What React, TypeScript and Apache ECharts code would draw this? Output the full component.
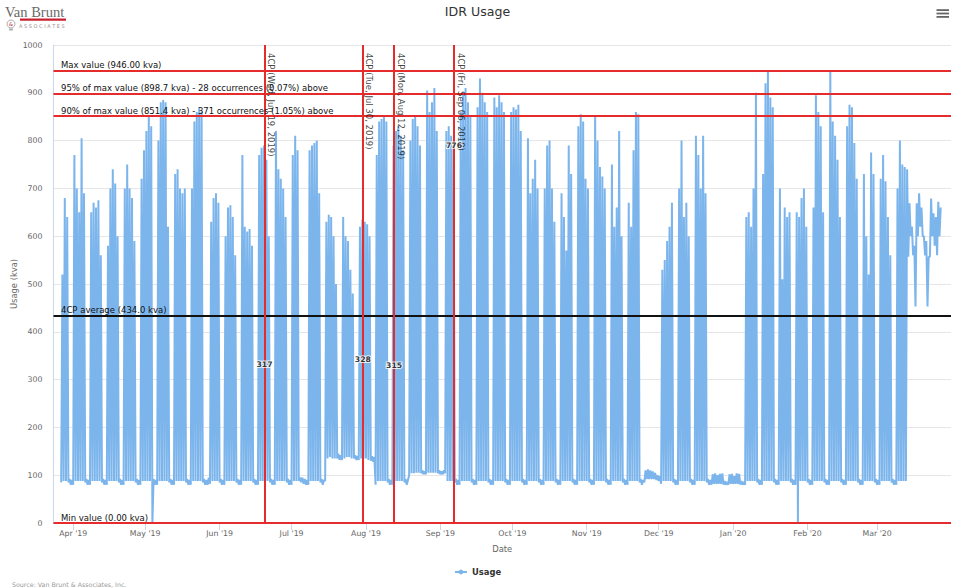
import React, { useEffect, useRef } from 'react';
import * as echarts from 'echarts';

const FONT = '"DejaVu Sans", "Lucida Grande", sans-serif';
const RED = '#e52b2b';

// one row per week, Monday..Sunday, first row = week of Mon Mar 25, 2019
// daily peak (kva)
const dailyPeaks: (number | null)[][] = [
    [null, null, 520, 680, 640, 92, 90],
    [770, 700, 650, 805, 690, 92, 90],
    [650, 670, 660, 675, 560, 92, 90],
    [580, 700, 740, 710, 600, 92, 90],
    [700, 750, 700, 680, 590, 92, 90],
    [720, 780, 820, 850, 830, 92, 90],
    [800, 880, 885, 880, 620, 92, 90],
    [730, 740, 700, 690, 700, 92, 90],
    [700, 840, 860, 870, 860, 92, 90],
    [95, 630, 680, 690, 670, 92, 90],
    [600, 660, 665, 640, 560, 92, 90],
    [770, 620, 610, 615, 580, 92, 90],
    [770, 785, 790, 760, 600, 92, 90],
    [820, 740, 720, 700, 640, 92, 90],
    [770, 810, 780, 95, 95, 92, 90],
    [780, 790, 795, 800, 690, 92, 90],
    [630, 645, 640, 600, 500, 145, 142],
    [640, 600, 590, 530, 480, 142, 140],
    [620, 635, 630, 625, 600, 140, 138],
    [770, 840, 845, 850, 840, 92, 90],
    [790, 820, 830, 810, 780, 92, 90],
    [800, 845, 850, 830, 790, 110, 108],
    [905, 860, 880, 910, 820, 110, 108],
    [110, 820, 830, 810, 790, 92, 90],
    [860, 900, 910, 880, 850, 92, 90],
    [870, 930, 900, 880, 860, 92, 90],
    [890, 870, 895, 880, 860, 92, 90],
    [860, 870, 865, 875, 820, 92, 90],
    [805, 690, 720, 760, 700, 92, 90],
    [700, 790, 800, 700, 630, 92, 90],
    [690, 640, 570, 790, 730, 92, 90],
    [830, 855, 840, 720, 700, 92, 90],
    [850, 800, 745, 725, 700, 92, 90],
    [750, 620, 660, 820, 600, 92, 90],
    [670, 620, 780, 860, 855, 92, 90],
    [110, 112, 110, 108, 105, 100, 98],
    [530, 550, 590, 620, 670, 92, 90],
    [700, 800, 640, 670, 600, 92, 90],
    [810, 770, 700, 810, 690, 92, 90],
    [102, 104, 100, 103, 104, 88, 86],
    [102, 103, 98, 104, 103, 88, 86],
    [640, 650, 620, 700, 900, 92, 90],
    [730, 920, 946, 890, 870, 92, 90],
    [700, 510, 660, 640, 650, 92, 90],
    [650, 640, 680, 700, 620, 92, 90],
    [660, 895, 860, 830, 650, 92, 90],
    [946, 840, 810, 760, 640, 92, 90],
    [830, 875, 870, 795, 720, 92, 90],
    [730, 600, 520, 775, 730, 92, 90],
    [720, 770, 715, 640, 560, 92, 90],
    [700, 800, 750, 745, 740, 669, 620],
    [580, 669, 690, 660, 600, 590, 557],
    [679, 648, 640, 672, 660, null, null],
];

// overnight low (kva) at the start of each day
const dailyLows: (number | null)[][] = [
    [null, null, 85, 88, 88, 85, 80],
    [80, 88, 88, 88, 88, 85, 80],
    [80, 88, 88, 88, 88, 85, 80],
    [80, 88, 88, 88, 88, 85, 80],
    [80, 88, 88, 88, 88, 85, 80],
    [80, 88, 88, 88, 88, 0, 80],
    [80, 88, 88, 88, 88, 85, 80],
    [80, 88, 88, 88, 88, 85, 80],
    [80, 88, 88, 88, 88, 85, 80],
    [80, 82, 88, 88, 88, 85, 80],
    [80, 88, 88, 88, 88, 85, 80],
    [80, 88, 88, 88, 88, 85, 80],
    [80, 88, 88, 88, 88, 85, 80],
    [80, 88, 88, 88, 88, 85, 80],
    [80, 88, 88, 88, 85, 82, 80],
    [80, 88, 88, 88, 88, 85, 80],
    [88, 135, 138, 135, 135, 135, 132],
    [132, 135, 138, 138, 135, 135, 132],
    [132, 135, 135, 135, 132, 130, 128],
    [80, 88, 88, 88, 88, 85, 80],
    [80, 88, 88, 88, 88, 85, 80],
    [100, 104, 104, 105, 105, 104, 102],
    [102, 105, 105, 105, 105, 104, 102],
    [102, 104, 88, 88, 88, 85, 80],
    [80, 88, 88, 88, 88, 85, 80],
    [80, 88, 88, 88, 88, 85, 80],
    [80, 88, 88, 88, 88, 85, 80],
    [80, 88, 88, 88, 88, 85, 80],
    [80, 88, 88, 88, 88, 85, 80],
    [80, 88, 88, 88, 88, 85, 80],
    [80, 88, 88, 88, 88, 85, 80],
    [80, 88, 88, 88, 88, 85, 80],
    [80, 88, 88, 88, 88, 85, 80],
    [80, 88, 88, 88, 88, 85, 80],
    [80, 88, 88, 88, 88, 85, 80],
    [85, 92, 92, 92, 92, 90, 88],
    [82, 88, 88, 88, 88, 85, 80],
    [80, 88, 88, 88, 88, 85, 80],
    [80, 88, 88, 88, 88, 85, 80],
    [80, 82, 82, 82, 82, 80, 80],
    [80, 82, 82, 82, 82, 80, 80],
    [80, 88, 88, 88, 88, 85, 80],
    [80, 88, 88, 88, 88, 85, 80],
    [80, 88, 88, 88, 88, 85, 80],
    [80, 0, 88, 88, 88, 85, 80],
    [80, 88, 88, 88, 88, 85, 80],
    [80, 88, 88, 88, 88, 85, 80],
    [80, 88, 88, 88, 88, 85, 80],
    [80, 88, 88, 88, 88, 85, 80],
    [80, 88, 88, 88, 88, 85, 80],
    [80, 88, 88, 88, 88, 557, 600],
    [560, 453, 600, 620, 600, 560, 453],
    [557, 600, 580, 560, 600, null, null],
];

// 4CP intervals
const cpDates = ['Wed, Jun 19, 2019', 'Tue, Jul 30, 2019', 'Mon, Aug 12, 2019', 'Fri, Sep 06, 2019'];
const cpTimes = [
    new Date(2019, 5, 19, 17).getTime(),
    new Date(2019, 6, 30, 17).getTime(),
    new Date(2019, 7, 12, 17).getTime(),
    new Date(2019, 8, 6, 17).getTime(),
];
const cpValues = [317, 328, 315, 776];

// horizontal reference lines
const refValues = [946, 898.7, 851.4, 434.0, 0];
const refLabels = [
    'Max value (946.00 kva)',
    '95% of max value (898.7 kva) - 28 occurrences (0.07%) above',
    '90% of max value (851.4 kva) - 371 occurrences (1.05%) above',
    '4CP average (434.0 kva)',
    'Min value (0.00 kva)',
];
const refColors = [RED, RED, RED, '#111111', RED];

const monthNames = ['Jan', 'Feb', 'Mar', 'Apr', 'May', 'Jun', 'Jul', 'Aug', 'Sep', 'Oct', 'Nov', 'Dec'];

const DAY = 86400000;

const App: React.FC = () => {
    const chartRef = useRef<HTMLDivElement>(null);

    useEffect(() => {
        const chartDom = chartRef.current!;
        const myChart = echarts.init(chartDom, undefined, { renderer: 'svg' });

        const usage: [number, number][] = [];
        dailyPeaks.forEach((row, w) => {
            row.forEach((peak, d) => {
                const low = dailyLows[w][d];
                if (peak == null || low == null) return;
                const day = 25 + w * 7 + d;
                usage.push([new Date(2019, 2, day).getTime(), low]);
                usage.push([new Date(2019, 2, day, 12).getTime(), peak]);
            });
        });

        const markData: any[] = refValues.map((v, i) => ({
            yAxis: v,
            lineStyle: { color: refColors[i], width: 2, type: 'solid' },
            label: {
                show: true,
                position: 'insideStartTop',
                formatter: refLabels[i],
                color: '#111',
                fontSize: 8.5,
                fontFamily: FONT,
                distance: [7.5, 1],
            },
        }));
        cpTimes.forEach((t) => {
            markData.push({
                xAxis: t,
                lineStyle: { color: RED, width: 2, type: 'solid' },
                label: { show: false },
            });
        });

        const option: any = {
            animation: false,
            backgroundColor: '#ffffff',
            title: {
                text: 'IDR Usage',
                left: 'center',
                top: 0,
                textStyle: { fontSize: 12.6, fontWeight: 'normal', color: '#333333', fontFamily: FONT },
            },
            grid: { left: 53.5, right: 4, top: 45, bottom: 65, outerBoundsMode: 'none', containLabel: false },
            legend: {
                data: ['Usage'],
                top: 563,
                left: 'center',
                itemWidth: 12,
                itemHeight: 6,
                textStyle: { color: '#333333', fontWeight: 'bold', fontSize: 8.4, fontFamily: FONT },
            },
            xAxis: {
                type: 'time',
                min: new Date(2019, 2, 23, 19).getTime(),
                max: new Date(2020, 2, 31, 19).getTime(),
                splitNumber: 12,
                minInterval: 28 * DAY,
                maxInterval: 31 * DAY,
                name: 'Date',
                nameLocation: 'middle',
                nameGap: 22,
                nameMoveOverlap: false,
                nameTextStyle: { color: '#666666', fontSize: 8.4, fontFamily: FONT },
                axisLine: { show: true, lineStyle: { color: '#ccd6eb' } },
                axisTick: { show: true, length: 7, lineStyle: { color: '#ccd6eb' } },
                axisLabel: {
                    color: '#666666',
                    fontSize: 7.8,
                    fontFamily: FONT,
                    margin: 6,
                    formatter: (value: number) => {
                        const d = new Date(value);
                        return monthNames[d.getMonth()] + " '" + String(d.getFullYear()).slice(2);
                    },
                },
                splitLine: { show: false },
            },
            yAxis: {
                type: 'value',
                min: 0,
                max: 1000,
                interval: 100,
                name: 'Usage (kva)',
                nameLocation: 'middle',
                nameGap: 36,
                nameMoveOverlap: false,
                nameTextStyle: { color: '#666666', fontSize: 8.4, fontFamily: FONT },
                axisLine: { show: true, lineStyle: { color: '#ccd6eb' } },
                axisTick: { show: false },
                axisLabel: {
                    color: '#666666',
                    fontSize: 7.8,
                    fontFamily: FONT,
                    margin: 11,
                    formatter: (v: number) => String(v),
                },
                splitLine: { show: true, lineStyle: { color: '#e6e6e6', width: 1 } },
            },
            series: [
                {
                    name: 'Usage',
                    type: 'line',
                    data: usage,
                    color: '#7cb5ec',
                    symbol: 'circle',
                    symbolSize: 5,
                    showSymbol: false,
                    lineStyle: { width: 2, color: '#7cb5ec' },
                    markLine: {
                        silent: true,
                        symbol: ['none', 'none'],
                        data: markData,
                    },
                },
                {
                    name: '4CP label',
                    type: 'scatter',
                    symbolSize: 0,
                    silent: true,
                    z: 5,
                    data: cpTimes.map((t, i) => ({
                        value: [t, 1000],
                        label: { formatter: '4CP (' + cpDates[i] + ')' },
                    })),
                    label: {
                        show: true,
                        position: [2, 8],
                        rotate: -90,
                        align: 'left',
                        verticalAlign: 'bottom',
                        color: '#111',
                        fontSize: 8.5,
                        fontFamily: FONT,
                    },
                },
                {
                    name: '4CP value',
                    type: 'scatter',
                    symbolSize: 0,
                    silent: true,
                    z: 6,
                    data: cpTimes.map((t, i) => [t, cpValues[i]]),
                    label: {
                        show: true,
                        position: 'top',
                        distance: 3,
                        formatter: (p: any) => String(p.value[1]),
                        color: '#000',
                        fontWeight: 'bold',
                        fontSize: 7.7,
                        fontFamily: FONT,
                        textBorderColor: '#ffffff',
                        textBorderWidth: 2,
                    },
                },
            ],
            graphic: [
                // logo
                {
                    type: 'text',
                    x: 5,
                    y: 11.5,
                    style: { text: 'Van Brunt', fill: '#6a6a6a', font: '14.5px "Liberation Serif", serif', textVerticalAlign: 'middle' },
                },
                { type: 'rect', shape: { x: 20, y: 18.5, width: 46, height: 2.3 }, style: { fill: '#c8202f' } },
                {
                    type: 'text',
                    x: 19,
                    y: 25.5,
                    style: { text: 'A S S O C I A T E S', fill: '#a08c8c', font: '5px ' + FONT, textVerticalAlign: 'middle' },
                },
                { type: 'circle', shape: { cx: 11, cy: 24, r: 4 }, style: { fill: 'none', stroke: '#b0b0b0', lineWidth: 1 } },
                {
                    type: 'text',
                    x: 11,
                    y: 24,
                    style: { text: '&', fill: '#c8202f', font: '5px ' + FONT, textAlign: 'center', textVerticalAlign: 'middle' },
                },
                { type: 'rect', shape: { x: 9, y: 28.5, width: 4, height: 2 }, style: { fill: '#b0b0b0' } },
                // menu icon
                { type: 'rect', shape: { x: 936.5, y: 9.2, width: 12.5, height: 1.8 }, style: { fill: '#666666' } },
                { type: 'rect', shape: { x: 936.5, y: 12.6, width: 12.5, height: 1.8 }, style: { fill: '#666666' } },
                { type: 'rect', shape: { x: 936.5, y: 16, width: 12.5, height: 1.8 }, style: { fill: '#666666' } },
                // credits
                {
                    type: 'text',
                    x: 12,
                    y: 584.5,
                    style: { text: 'Source: Van Brunt & Associates, Inc.', fill: '#999999', font: '6.3px ' + FONT, textVerticalAlign: 'middle' },
                },
            ],
        };

        myChart.setOption(option);

        return () => {
            myChart.dispose();
        };
    }, []);

    return (
        <div
            ref={chartRef}
            style={{ position: 'fixed', left: 0, top: 0, width: '955px', height: '588px' }}
        />
    );
};

export default App;
